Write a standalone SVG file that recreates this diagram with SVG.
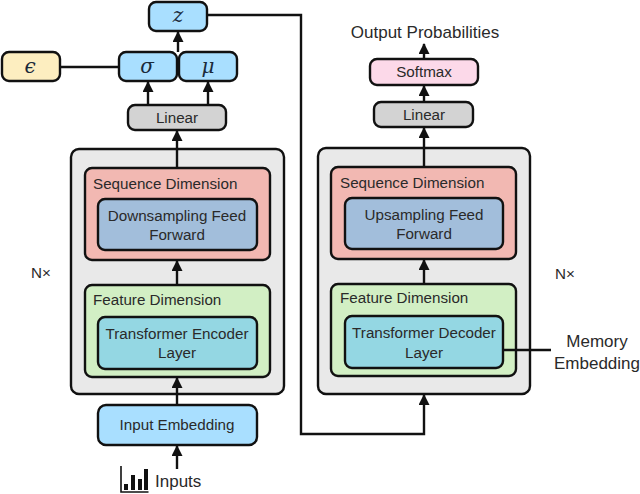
<svg xmlns="http://www.w3.org/2000/svg" width="640" height="494" viewBox="0 0 640 494">
<style>
.n{stroke:#111;stroke-width:2.4}
.c{fill:none;stroke:#111;stroke-width:2.4}
.a{marker-end:url(#ah)}
text{font-family:"Liberation Sans",Arial,sans-serif;font-size:15.2px;fill:#2a2a2a;text-anchor:middle}
.g{font-family:"DejaVu Serif","Liberation Serif",serif;font-style:italic;font-size:20px;fill:#1a2a3a}
.s{text-anchor:start}
.l{font-size:17px}
.blue{fill:#a9dfff}.gray{fill:#d3d3d3}.outer{fill:#e9e9e9}.red{fill:#f2b8b2}.steel{fill:#a2bedb}.green{fill:#d2efc4}.teal{fill:#94d7e3}
</style>
<defs>
<marker id="ah" markerUnits="userSpaceOnUse" markerWidth="12" markerHeight="11" refX="10" refY="5.5" orient="auto"><path d="M0 0L11 5.5L0 11Z" fill="#111"/></marker>
</defs>
<rect width="640" height="494" fill="#fff"/>
<g id="enc-outer"><rect class="n outer" x="71" y="149" width="213" height="245" rx="8"/></g>
<g id="dec-outer"><rect class="n outer" x="318" y="148" width="212" height="246" rx="8"/></g>
<g id="z"><rect class="n blue" x="149" y="2" width="58" height="29" rx="7"/><text class="g" x="178" y="22">z</text></g>
<g id="epsilon"><rect class="n" fill="#fdeec0" x="2" y="52" width="58" height="29" rx="7"/><text class="g" x="30" y="73">ϵ</text></g>
<g id="sigma"><rect class="n blue" x="119" y="52" width="58" height="29" rx="7"/><text class="g" x="147" y="73">σ</text></g>
<g id="mu"><rect class="n blue" x="179" y="52" width="58" height="29" rx="7"/><text class="g" x="208" y="73">μ</text></g>
<g id="enc-linear"><rect class="n gray" x="128" y="105" width="98" height="25" rx="7"/><text x="177" y="123">Linear</text></g>
<g id="enc-seq"><rect class="n red" x="85" y="168" width="185" height="92" rx="7"/><text class="s" x="93" y="189">Sequence Dimension</text></g>
<g id="enc-ff"><rect class="n steel" x="98" y="199" width="159" height="51" rx="7"/><text x="177" y="221">Downsampling Feed</text><text x="177" y="240">Forward</text></g>
<g id="enc-feat"><rect class="n green" x="85" y="285" width="185" height="92" rx="7"/><text class="s" x="93" y="305">Feature Dimension</text></g>
<g id="enc-layer"><rect class="n teal" x="98" y="317" width="159" height="52" rx="7"/><text x="177" y="339">Transformer Encoder</text><text x="177" y="358">Layer</text></g>
<g id="input-embedding"><rect class="n blue" x="98" y="405" width="159" height="40" rx="8"/><text x="177" y="430">Input Embedding</text></g>
<g id="inputs"><path class="c" d="M121 466V492H148.500" style="stroke-width:1.6"/>
<rect x="124" y="484" width="4" height="6" fill="#111"/><rect x="131" y="475" width="4" height="15" fill="#111"/><rect x="138" y="479" width="4" height="11" fill="#111"/><rect x="144" y="469" width="4" height="21" fill="#111"/>
<text class="s l" x="155" y="487">Inputs</text></g>
<g id="nx-left"><text x="41" y="278">N×</text></g>
<g id="output-probs"><text class="l" x="425" y="38">Output Probabilities</text></g>
<g id="softmax"><rect class="n" fill="#fcd9e9" x="370" y="59" width="108" height="26" rx="7"/><text x="424" y="77">Softmax</text></g>
<g id="dec-linear"><rect class="n gray" x="374" y="102" width="99" height="25" rx="7"/><text x="424" y="120">Linear</text></g>
<g id="dec-seq"><rect class="n red" x="331" y="167" width="185" height="92" rx="7"/><text class="s" x="340" y="188">Sequence Dimension</text></g>
<g id="dec-ff"><rect class="n steel" x="345" y="198" width="158" height="51" rx="7"/><text x="424" y="220">Upsampling Feed</text><text x="424" y="239">Forward</text></g>
<g id="dec-feat"><rect class="n green" x="331" y="284" width="185" height="92" rx="7"/><text class="s" x="340" y="303">Feature Dimension</text></g>
<g id="dec-layer"><rect class="n teal" x="345" y="316" width="158" height="52" rx="7"/><text x="424" y="338">Transformer Decoder</text><text x="424" y="358">Layer</text></g>
<g id="nx-right"><text x="565" y="279">N×</text></g>
<g id="memory"><text class="l" x="597" y="347">Memory</text><text class="l" x="597" y="369">Embedding</text></g>
<g id="connectors">
<path class="c a" d="M208 15H301V434H424V395"/>
<path class="c" d="M60 67H119"/>
<path class="c a" d="M178 52V32"/>
<path class="c a" d="M148 105V82"/>
<path class="c a" d="M208 105V82"/>
<path class="c a" d="M177 168V131"/>
<path class="c a" d="M177 285V261"/>
<path class="c a" d="M177 405V378"/>
<path class="c a" d="M177 469V446"/>
<path class="c a" d="M424 167V128"/>
<path class="c a" d="M424 102V86"/>
<path class="c a" d="M424 59V44"/>
<path class="c a" d="M424 284V260"/>
<path class="c" d="M503 350H551"/>
</g>
</svg>
